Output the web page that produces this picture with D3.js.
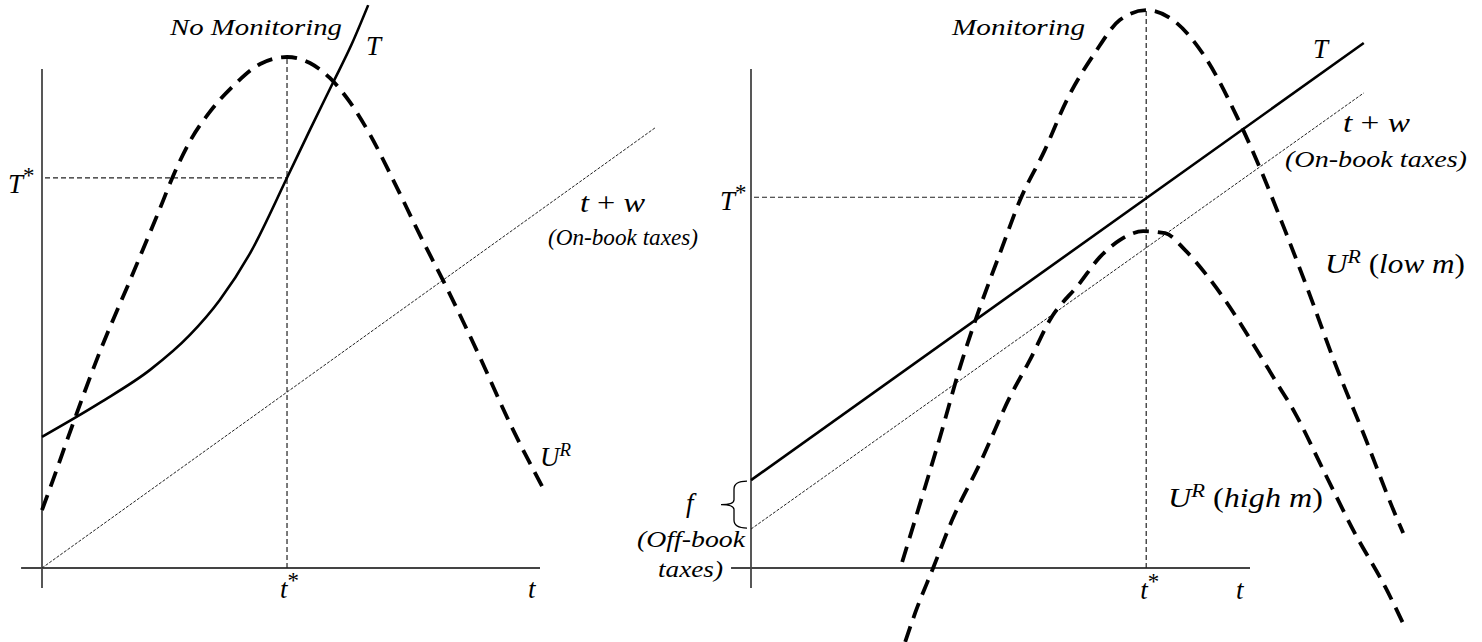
<!DOCTYPE html>
<html>
<head>
<meta charset="utf-8">
<style>
body { margin: 0; background: #fff; }
svg { display: block; background: #fff; }
.yaxis { stroke: #111; stroke-width: 1.4; }
.xaxis { stroke: #444; stroke-width: 2; }
.solid { stroke: #000; stroke-width: 2.6; fill: none; }
.ur { stroke: #000; stroke-width: 3.8; stroke-dasharray: 16,9; fill: none; }
.guide { stroke: #222; stroke-width: 1.2; stroke-dasharray: 5,3; fill: none; }
.onbook { stroke: #222; stroke-width: 1; stroke-dasharray: 3,1.5; fill: none; }
.brace { stroke: #000; stroke-width: 1.3; fill: none; }
text { font-family: 'Liberation Serif', 'DejaVu Serif', serif; font-style: italic; fill: #000; }
.title { font-size: 23px; }
.note { font-size: 23px; }
.math { font-size: 27px; }
</style>
<script src="https://d3js.org/d3.v7.min.js"></script>
</head>
<body>
<svg width="1482" height="642"></svg>
<script>
// everything is on a 0-100 scale for t (across) and money (up), one per panel

// left panel: no monitoring
var tStarL = 49.2, TStarL = 78.2;
var taxL = [[0,26.3],[11.6,33.1],[21.7,39.7],[29.7,46.7],[35.7,53.7],[41.8,63.1],
            [49.2,78.2],[53.8,87.8],[58.4,97.2],[62.2,105.0],[65.5,112.8]];
var onBookL = [[0,0],[123.1,88.2]];
var urL = [[0,11.6],[2.2,17.6],[6.0,28.3],[11.6,43.3],[17.7,57.7],[23.3,71.1],[26.7,79.4],
           [30.1,86.2],[33.7,91.4],[38.8,97.0],[43.8,101.0],[49.2,102.4],[53.8,101.2],
           [57.8,98.2],[61.8,93.4],[65.9,86.8],[70.5,77.8],[75.9,66.7],[81.5,55.7],
           [88.0,42.1],[94.0,28.9],[100.4,16.4]];

// right panel: monitoring
var tStarR = 79.2, TStarR = 74.3;
var taxR = [[0,17.6],[122.8,105.2]];
var onBookR = [[0,7.8],[122.8,95.2]];
var urLowM = [[30.3,1.2],[33.9,13.0],[37.9,26.3],[41.9,40.3],[45.9,52.3],[49.9,63.1],
              [53.9,73.7],[58.9,83.8],[63.3,93.8],[68.9,103.2],[73.9,109.8],[79.2,111.8],
              [84.0,110.2],[91.0,102.4],[97.4,90.4],[102.4,79.2],[107.0,67.7],[112.0,54.7],
              [117.0,41.1],[123.0,26.3],[128.5,12.2],[130.7,7.0]];
var urHighM = [[30.9,-14.8],[32.9,-9.0],[36.5,0],[40.3,9.6],[45.9,21.0],[51.9,34.3],
               [55.9,41.7],[59.9,49.7],[65.9,57.1],[69.9,62.3],[73.9,65.7],[78.6,67.5],
               [83.0,67.1],[87.0,63.7],[91.0,59.1],[95.0,53.7],[101.0,44.3],[105.0,37.7],
               [109.0,31.1],[115.0,19.0],[121.0,7.0],[127.1,-3.8],[131.3,-12.4]];

var svg = d3.select("svg");

var xL = d3.scaleLinear().domain([0, 100]).range([42, 540]);
var xR = d3.scaleLinear().domain([0, 100]).range([751, 1250]);
var y = d3.scaleLinear().domain([0, 100]).range([568, 69]);

function panel(x, tStar, TStar, peak, tax, onBook, curves, axisLeft) {
    var g = svg.append("g");
    g.append("line").attr("class", "yaxis")
        .attr("x1", x(0)).attr("x2", x(0)).attr("y1", y(-4)).attr("y2", y(100));
    g.append("line").attr("class", "xaxis")
        .attr("x1", x(axisLeft)).attr("x2", x(100)).attr("y1", y(0)).attr("y2", y(0));

    g.append("line").attr("class", "guide")
        .attr("x1", x(tStar)).attr("x2", x(tStar)).attr("y1", y(0)).attr("y2", y(peak));
    g.append("line").attr("class", "guide")
        .attr("x1", x(0) + 3).attr("x2", x(tStar)).attr("y1", y(TStar)).attr("y2", y(TStar));

    var line = d3.line()
        .x(function(d) { return x(d[0]); })
        .y(function(d) { return y(d[1]); })
        .curve(d3.curveMonotoneX);

    g.append("path").attr("class", "onbook").attr("d", line(onBook));
    g.append("path").attr("class", "solid").attr("d", line(tax));
    curves.forEach(function(c) {
        g.append("path").attr("class", "ur").attr("d", line(c));
    });
}

panel(xL, tStarL, TStarL, 102.4, taxL, onBookL, [urL], -4.2);
panel(xR, tStarR, TStarR, 111.8, taxR, onBookR, [urLowM, urHighM], -4);

// curly brace for f, between the two intercepts
var bTop = y(taxR[0][1]) + 1, bBot = y(onBookR[0][1]) - 1, bMid = (bTop + bBot) / 2;
var bx = xR(0) - 4, sx = bx - 13, tip = sx - 13;
svg.append("path").attr("class", "brace")
    .attr("d", "M" + bx + "," + bTop + " Q" + sx + "," + bTop + " " + sx + "," + (bTop + 8) +
               " L" + sx + "," + (bMid - 5) + " Q" + sx + "," + bMid + " " + tip + "," + bMid +
               " Q" + sx + "," + bMid + " " + sx + "," + (bMid + 5) +
               " L" + sx + "," + (bBot - 8) + " Q" + sx + "," + bBot + " " + bx + "," + bBot);

// text labels
function label(px, py, parts, cls, len) {
    var t = svg.append("text").attr("x", px).attr("y", py).attr("class", cls)
        .attr("font-family", "'Liberation Serif', 'DejaVu Serif', serif");
    if (len) t.attr("textLength", len).attr("lengthAdjust", "spacingAndGlyphs");
    var up = false;
    parts.forEach(function(p) {
        var s = t.append("tspan").text(p[0]);
        if ((p[1] == "s" || p[1] == "a") && !up) {
            s.attr("dy", -10).attr("font-size", p[1] == "a" ? "85%" : "70%");
            up = true;
        } else if (p[1] != "s" && p[1] != "a" && up) { s.attr("dy", 10); up = false; }
        if (p[1] == "n" || p[1] == "a") s.attr("font-style", "normal");
    });
}

label(170, 35, [["No Monitoring", "i"]], "title", 172);
label(366, 55, [["T", "i"]], "math");
label(8, 193, [["T", "i"], ["*", "a"]], "math");
label(580, 212, [["t", "i"], [" + ", "n"], ["w", "i"]], "math", 65);
label(548, 245, [["(On-book taxes)", "i"]], "note", 150);
label(540, 466, [["U", "i"], ["R", "s"]], "math");
label(xL(tStarL) - 7, 598, [["t", "i"], ["*", "a"]], "math");
label(xL(100) - 12, 598, [["t", "i"]], "math");

label(952, 35, [["Monitoring", "i"]], "title", 133);
label(1313, 58, [["T", "i"]], "math");
label(1343, 132, [["t", "i"], [" + ", "n"], ["w", "i"]], "math", 67);
label(1285, 167, [["(On-book taxes)", "i"]], "note", 182);
label(720, 210, [["T", "i"], ["*", "a"]], "math");
label(1325, 273, [["U", "i"], ["R", "s"], ["  (", "n"], ["low m", "i"], [")", "n"]], "math", 140);
label(1168, 507, [["U", "i"], ["R", "s"], ["  (", "n"], ["high m", "i"], [")", "n"]], "math", 155);
label(xR(tStarR) - 6, 599, [["t", "i"], ["*", "a"]], "math");
label(xR(100) - 14, 599, [["t", "i"]], "math");
label(686, 512, [["f", "i"]], "math");
label(637, 547, [["(Off-book", "i"]], "note", 108);
label(658, 577, [["taxes)", "i"]], "note", 65);
</script>
</body>
</html>
